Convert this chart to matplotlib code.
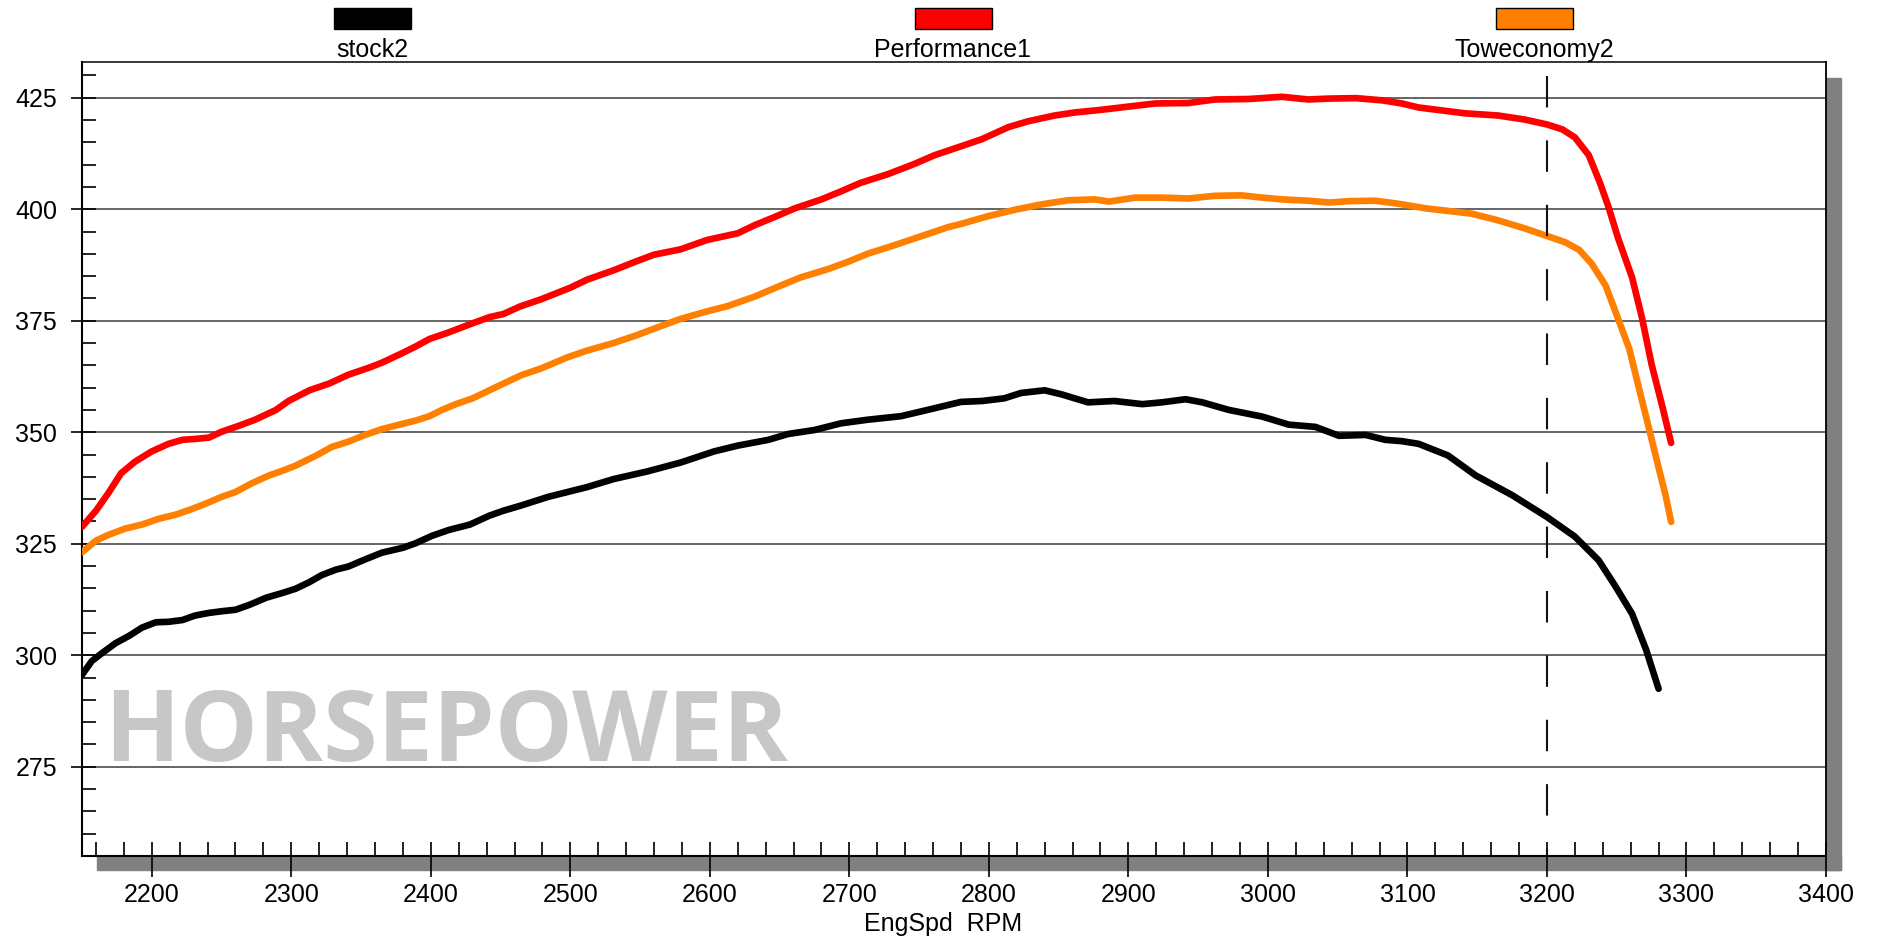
import matplotlib
matplotlib.use("Agg")
import matplotlib.pyplot as plt
from matplotlib.patches import Rectangle
from matplotlib.ticker import MultipleLocator

plt.rcParams['font.family'] = ['Liberation Sans', 'DejaVu Sans']

# dyno runs: engine speed (rpm) and horsepower
rpm_stock = [2150, 2157, 2164, 2174, 2184, 2193, 2203, 2212, 2222, 2231,
             2241, 2251, 2260, 2270, 2282, 2294, 2303, 2313, 2322, 2332,
             2341, 2353, 2365, 2380, 2389, 2401, 2413, 2428, 2442, 2452,
             2465, 2484, 2512, 2531, 2555, 2579, 2603, 2620, 2642, 2656,
             2675, 2694, 2713, 2737, 2756, 2780, 2795, 2811, 2823, 2840,
             2852, 2871, 2890, 2910, 2924, 2941, 2953, 2972, 2996, 3015,
             3034, 3051, 3070, 3084, 3096, 3108, 3129, 3149, 3175, 3200,
             3220, 3237, 3249, 3261, 3271, 3280]
hp_stock = [295.6, 298.7, 300.4, 302.7, 304.4, 306.2, 307.4, 307.5, 307.9, 308.9,
            309.5, 309.9, 310.2, 311.3, 312.9, 314.0, 314.9, 316.4, 318.0, 319.2,
            319.9, 321.5, 323.0, 324.1, 325.1, 326.8, 328.1, 329.3, 331.3, 332.4,
            333.6, 335.5, 337.7, 339.5, 341.2, 343.2, 345.7, 347.0, 348.3, 349.6,
            350.5, 352.0, 352.8, 353.6, 355.0, 356.8, 357.0, 357.6, 358.8, 359.4,
            358.5, 356.7, 357.0, 356.3, 356.7, 357.4, 356.7, 355.0, 353.5, 351.7,
            351.2, 349.2, 349.4, 348.3, 348.0, 347.4, 344.8, 340.3, 335.9, 331.0,
            326.6, 321.3, 315.5, 309.3, 301.3, 292.5]

rpm_perf = [2150, 2160, 2169, 2178, 2188, 2200, 2212, 2222, 2231, 2241,
            2250, 2262, 2274, 2289, 2298, 2313, 2327, 2341, 2356, 2365,
            2380, 2389, 2399, 2413, 2428, 2442, 2452, 2464, 2479, 2500,
            2512, 2531, 2548, 2560, 2579, 2598, 2620, 2632, 2646, 2661,
            2680, 2694, 2708, 2728, 2747, 2761, 2780, 2795, 2814, 2828,
            2847, 2862, 2881, 2900, 2919, 2943, 2962, 2986, 3010, 3029,
            3044, 3063, 3082, 3096, 3108, 3141, 3165, 3184, 3200, 3211,
            3220, 3230, 3238, 3244, 3251, 3261, 3268, 3275, 3283, 3289]
hp_perf = [328.8, 332.4, 336.4, 340.8, 343.4, 345.7, 347.4, 348.3, 348.5, 348.8,
           350.1, 351.4, 352.8, 355.0, 357.0, 359.4, 360.9, 362.9, 364.5, 365.6,
           367.8, 369.2, 370.9, 372.4, 374.2, 375.8, 376.5, 378.2, 379.8, 382.4,
           384.2, 386.3, 388.4, 389.8, 391.0, 393.1, 394.6, 396.4, 398.2, 400.2,
           402.2, 404.0, 405.9, 407.9, 410.2, 412.1, 414.1, 415.7, 418.4, 419.7,
           421.0, 421.7, 422.3, 423.0, 423.7, 423.8, 424.6, 424.7, 425.2, 424.6,
           424.8, 424.9, 424.4, 423.7, 422.8, 421.5, 421.0, 420.1, 419.0, 417.9,
           416.1, 412.1, 405.9, 400.6, 393.5, 384.7, 375.8, 365.2, 355.4, 347.6]

rpm_tow = [2150, 2160, 2169, 2181, 2193, 2205, 2217, 2229, 2241, 2250,
           2260, 2272, 2284, 2294, 2303, 2318, 2329, 2341, 2353, 2365,
           2380, 2389, 2399, 2408, 2418, 2430, 2442, 2452, 2465, 2479,
           2498, 2512, 2531, 2548, 2565, 2579, 2598, 2613, 2632, 2651,
           2665, 2685, 2699, 2713, 2732, 2752, 2771, 2780, 2799, 2819,
           2838, 2857, 2876, 2886, 2905, 2924, 2943, 2962, 2981, 2996,
           3010, 3029, 3044, 3058, 3077, 3094, 3113, 3146, 3165, 3184,
           3200, 3213, 3223, 3232, 3242, 3249, 3259, 3266, 3273, 3280,
           3285, 3289]
hp_tow = [323.1, 325.7, 327.0, 328.4, 329.3, 330.6, 331.5, 332.8, 334.3, 335.5,
          336.6, 338.6, 340.3, 341.4, 342.5, 344.8, 346.7, 347.9, 349.4, 350.7,
          351.9, 352.6, 353.6, 355.0, 356.3, 357.6, 359.4, 360.9, 362.8, 364.3,
          366.8, 368.3, 370.0, 371.8, 373.8, 375.4, 377.1, 378.3, 380.4, 382.9,
          384.7, 386.6, 388.2, 390.0, 391.9, 394.0, 396.0, 396.7, 398.4, 399.9,
          401.1, 402.0, 402.2, 401.7, 402.6, 402.6, 402.4, 403.0, 403.1, 402.6,
          402.2, 401.9, 401.5, 401.8, 401.9, 401.2, 400.2, 399.0, 397.5, 395.7,
          394.0, 392.6, 390.9, 387.8, 382.9, 377.1, 368.7, 359.8, 351.0, 342.1,
          335.9, 329.9]

run_names = ["stock2", "Performance1", "Toweconomy2"]
run_colors = ["#000000", "#ff0000", "#ff8000"]
x_ticks = list(range(2200, 3401, 100))
y_ticks = [275, 300, 325, 350, 375, 400, 425]
marker_rpm = 3200

W, H = 1877, 941
fig = plt.figure(figsize=(W / 100, H / 100), dpi=100)


def fx(px):
    return px / W


def fy(py):
    return 1 - py / H


# drop shadow under / right of the plot box
fig.patches.append(Rectangle((fx(97), fy(870)), fx(1841 - 97), 14 / H,
                             transform=fig.transFigure, color="#808080", zorder=-1))
fig.patches.append(Rectangle((fx(1826), fy(870)), fx(15), (870 - 78) / H,
                             transform=fig.transFigure, color="#808080", zorder=-1))

ax = fig.add_axes([fx(82), fy(856), fx(1826 - 82), (856 - 62) / H])
ax.set_xlim(2150, 3400)
ax.set_ylim(255, 433)

ax.text(fx(104), fy(761), "HORSEPOWER", transform=fig.transFigure,
        fontfamily="Open Sans", fontweight="bold", fontsize=71,
        color="#c6c7c9", ha="left", va="baseline", zorder=1)

ax.grid(axis="y", which="major", color="#3a3a3a", lw=1.1)
ax.set_axisbelow(True)

for r, h, c in zip([rpm_stock, rpm_perf, rpm_tow], [hp_stock, hp_perf, hp_tow], run_colors):
    ax.plot(r, h, color=c, lw=4.8, solid_capstyle="round", solid_joinstyle="round", zorder=3)

ax.plot([marker_rpm, marker_rpm], [429.9, 255], color="#111111", lw=1.5,
        dashes=(15.1, 15.8), zorder=4)

ax.set_xticks(x_ticks)
ax.set_yticks(y_ticks)
ax.xaxis.set_minor_locator(MultipleLocator(20))
ax.yaxis.set_minor_locator(MultipleLocator(5))
ax.xaxis.remove_overlapping_locs = False
ax.yaxis.remove_overlapping_locs = False
ax.tick_params(axis="x", which="major", direction="out", length=15, width=1.2,
               pad=4.5, labelsize=18)
ax.tick_params(axis="x", which="minor", direction="in", length=10, width=1.2)
ax.tick_params(axis="y", which="major", direction="out", length=8, width=1.2,
               pad=10, labelsize=18)
ax.tick_params(axis="y", which="minor", direction="in", length=10, width=1.2)

ax.spines["left"].set_linewidth(1.5)
ax.spines["bottom"].set_linewidth(1.5)
ax.spines["top"].set_linewidth(1.1)
ax.spines["right"].set_linewidth(1.3)

fig.text(fx(943), fy(931), "EngSpd  RPM", fontsize=18, ha="center", va="baseline")

# legend swatches across the top
for cx, name, c in zip([372, 953, 1534], run_names, run_colors):
    fig.patches.append(Rectangle((fx(cx - 38), fy(29)), fx(77), 21 / H,
                                 transform=fig.transFigure, facecolor=c,
                                 edgecolor="black", lw=1))
    fig.text(fx(cx), fy(57), name, fontsize=18, ha="center", va="baseline")

fig.savefig("out.png", dpi=100)
